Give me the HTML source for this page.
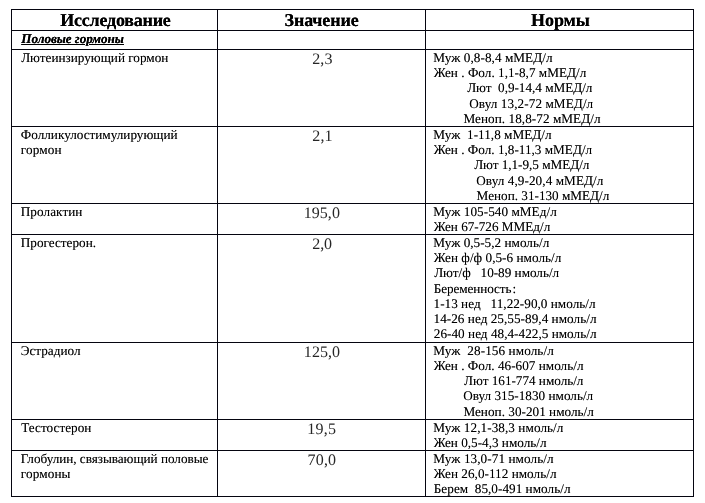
<!DOCTYPE html>
<html lang="ru"><head><meta charset="utf-8"><title>Половые гормоны</title>
<style>
html,body{margin:0;padding:0;background:#fff;}
body{width:705px;height:503px;position:relative;overflow:hidden;font-family:"Liberation Serif","DejaVu Serif",serif;color:#000;}
#w{position:absolute;left:0;top:0;width:705px;height:503px;will-change:transform;}
table{position:absolute;left:11px;top:9px;width:683px;border-collapse:separate;border-spacing:0;table-layout:fixed;border-right:1px solid #05050f;border-bottom:1px solid #05050f;}
td,th{position:relative;box-sizing:border-box;padding:0;margin:0;border-left:1px solid #05050f;border-top:1px solid #05050f;overflow:visible;font-weight:normal;text-align:left;vertical-align:top;}
.t{position:absolute;white-space:pre;text-rendering:geometricPrecision;text-shadow:0 0 0 rgba(0,0,0,.45);line-height:20px;height:20px;margin:0;}
.b{font-weight:bold;text-shadow:0 0 0 #000;}
.val{text-shadow:none;color:#262626;}
.bi{font-weight:bold;font-style:italic;text-decoration:underline;text-shadow:0 0 0 #000;}
</style></head><body><div id="w">
<table>
<colgroup><col style="width:206px"><col style="width:208px"><col style="width:268px"></colgroup>
<tr style="height:21px">
<th style="height:21px">
<div class="t b" style="left:48.25px;top:-0.08px;font-size:18px;letter-spacing:-0.215px">Исследование</div>
</th>
<th style="height:21px">
<div class="t b" style="left:66.60px;top:-0.08px;font-size:18px;letter-spacing:-0.132px">Значение</div>
</th>
<th style="height:21px">
<div class="t b" style="left:105.05px;top:-0.08px;font-size:18px;letter-spacing:-0.057px">Нормы</div>
</th>
</tr>
<tr style="height:19px">
<td style="height:19px">
<div class="t bi" style="left:9.33px;top:-2.45px;font-size:13.2px;letter-spacing:-0.068px">Половые гормоны</div>
</td>
<td style="height:19px"></td>
<td style="height:19px"></td>
</tr>
<tr style="height:77px">
<td style="height:77px">
<div class="t" style="left:9.16px;top:-2.45px;font-size:13.2px;letter-spacing:0.004px">Лютеинзирующий гормон</div>
</td>
<td style="height:77px">
<div class="t val" style="left:94.24px;top:-0.40px;font-size:16px;letter-spacing:0.102px">2,3</div>
</td>
<td style="height:77px">
<div class="t" style="left:7.36px;top:-2.45px;font-size:13.2px;letter-spacing:0.054px">Муж 0,8-8,4 мМЕД/л</div>
<div class="t" style="left:7.83px;top:12.55px;font-size:13.2px;letter-spacing:0.022px">Жен . Фол. 1,1-8,7 мМЕД/л</div>
<div class="t" style="left:41.16px;top:27.55px;font-size:13.2px;letter-spacing:-0.017px">Лют  0,9-14,4 мМЕД/л</div>
<div class="t" style="left:43.28px;top:43.55px;font-size:13.2px;letter-spacing:0.079px">Овул 13,2-72 мМЕД/л</div>
<div class="t" style="left:37.42px;top:58.55px;font-size:13.2px;letter-spacing:0.056px">Меноп. 18,8-72 мМЕД/л</div>
</td>
</tr>
<tr style="height:77px">
<td style="height:77px">
<div class="t" style="left:8.85px;top:-2.45px;font-size:13.2px;letter-spacing:0.005px">Фолликулостимулирующий</div>
<div class="t" style="left:8.83px;top:12.55px;font-size:13.2px;letter-spacing:0.125px">гормон</div>
</td>
<td style="height:77px">
<div class="t val" style="left:94.24px;top:-0.40px;font-size:16px;letter-spacing:0.170px">2,1</div>
</td>
<td style="height:77px">
<div class="t" style="left:7.36px;top:-2.45px;font-size:13.2px;letter-spacing:0.027px">Муж  1-11,8 мМЕД/л</div>
<div class="t" style="left:7.83px;top:12.55px;font-size:13.2px;letter-spacing:0.011px">Жен . Фол. 1,8-11,3 мМЕД/л</div>
<div class="t" style="left:48.18px;top:27.55px;font-size:13.2px;letter-spacing:-0.031px">Лют 1,1-9,5 мМЕД/л</div>
<div class="t" style="left:50.26px;top:43.55px;font-size:13.2px;letter-spacing:0.070px">Овул 4,9-20,4 мМЕД/л</div>
<div class="t" style="left:50.60px;top:58.55px;font-size:13.2px;letter-spacing:0.001px">Меноп. 31-130 мМЕД/л</div>
</td>
</tr>
<tr style="height:31px">
<td style="height:31px">
<div class="t" style="left:8.78px;top:-2.45px;font-size:13.2px;letter-spacing:0.073px">Пролактин</div>
</td>
<td style="height:31px">
<div class="t val" style="left:85.64px;top:-0.40px;font-size:16px;letter-spacing:0.072px">195,0</div>
</td>
<td style="height:31px">
<div class="t" style="left:7.36px;top:-2.45px;font-size:13.2px;letter-spacing:0.051px">Муж 105-540 мМЕд/л</div>
<div class="t" style="left:7.83px;top:12.55px;font-size:13.2px;letter-spacing:-0.004px">Жен 67-726 ММЕд/л</div>
</td>
</tr>
<tr style="height:108px">
<td style="height:108px">
<div class="t" style="left:8.78px;top:-2.45px;font-size:13.2px;letter-spacing:0.016px">Прогестерон.</div>
</td>
<td style="height:108px">
<div class="t val" style="left:94.24px;top:-0.40px;font-size:16px;letter-spacing:-0.058px">2,0</div>
</td>
<td style="height:108px">
<div class="t" style="left:7.36px;top:-2.45px;font-size:13.2px;letter-spacing:0.019px">Муж 0,5-5,2 нмоль/л</div>
<div class="t" style="left:7.83px;top:12.55px;font-size:13.2px;letter-spacing:0.034px">Жен ф/ф 0,5-6 нмоль/л</div>
<div class="t" style="left:8.16px;top:27.55px;font-size:13.2px;letter-spacing:-0.009px">Лют/ф   10-89 нмоль/л</div>
<div class="t" style="left:7.77px;top:43.55px;font-size:13.2px;letter-spacing:-0.094px;word-spacing:-2.2px">Беременность :</div>
<div class="t" style="left:7.52px;top:58.55px;font-size:13.2px;letter-spacing:0.023px">1-13 нед   11,22-90,0 нмоль/л</div>
<div class="t" style="left:7.52px;top:73.55px;font-size:13.2px;letter-spacing:0.040px">14-26 нед 25,55-89,4 нмоль/л</div>
<div class="t" style="left:7.85px;top:88.55px;font-size:13.2px;letter-spacing:0.027px">26-40 нед 48,4-422,5 нмоль/л</div>
</td>
</tr>
<tr style="height:77px">
<td style="height:77px">
<div class="t" style="left:8.78px;top:-2.45px;font-size:13.2px;letter-spacing:0.007px">Эстрадиол</div>
</td>
<td style="height:77px">
<div class="t val" style="left:85.83px;top:-0.40px;font-size:16px;letter-spacing:0.073px">125,0</div>
</td>
<td style="height:77px">
<div class="t" style="left:7.36px;top:-2.45px;font-size:13.2px;letter-spacing:0.088px">Муж  28-156 нмоль/л</div>
<div class="t" style="left:7.83px;top:12.55px;font-size:13.2px;letter-spacing:0.015px">Жен . Фол. 46-607 нмоль/л</div>
<div class="t" style="left:38.11px;top:27.55px;font-size:13.2px;letter-spacing:-0.015px">Лют 161-774 нмоль/л</div>
<div class="t" style="left:37.28px;top:42.55px;font-size:13.2px;letter-spacing:0.012px">Овул 315-1830 нмоль/л</div>
<div class="t" style="left:37.42px;top:58.55px;font-size:13.2px;letter-spacing:0.023px">Меноп. 30-201 нмоль/л</div>
</td>
</tr>
<tr style="height:31px">
<td style="height:31px">
<div class="t" style="left:9.26px;top:-2.45px;font-size:13.2px;letter-spacing:0.036px">Тестостерон</div>
</td>
<td style="height:31px">
<div class="t val" style="left:89.25px;top:-0.40px;font-size:16px;letter-spacing:0.258px">19,5</div>
</td>
<td style="height:31px">
<div class="t" style="left:7.36px;top:-2.45px;font-size:13.2px;letter-spacing:0.067px">Муж 12,1-38,3 нмоль/л</div>
<div class="t" style="left:7.83px;top:12.55px;font-size:13.2px;letter-spacing:0.000px">Жен 0,5-4,3 нмоль/л</div>
</td>
</tr>
<tr style="height:46px">
<td style="height:46px">
<div class="t" style="left:8.78px;top:-2.45px;font-size:13.2px;letter-spacing:-0.025px">Глобулин, связывающий половые</div>
<div class="t" style="left:8.83px;top:12.55px;font-size:13.2px;letter-spacing:0.118px">гормоны</div>
</td>
<td style="height:46px">
<div class="t val" style="left:89.59px;top:-0.40px;font-size:16px;letter-spacing:0.156px">70,0</div>
</td>
<td style="height:46px">
<div class="t" style="left:7.36px;top:-2.45px;font-size:13.2px;letter-spacing:0.078px">Муж 13,0-71 нмоль/л</div>
<div class="t" style="left:7.83px;top:12.55px;font-size:13.2px;letter-spacing:0.031px">Жен 26,0-112 нмоль/л</div>
<div class="t" style="left:7.77px;top:27.55px;font-size:13.2px;letter-spacing:0.031px">Берем  85,0-491 нмоль/л</div>
</td>
</tr>
</table>
</div></body></html>
